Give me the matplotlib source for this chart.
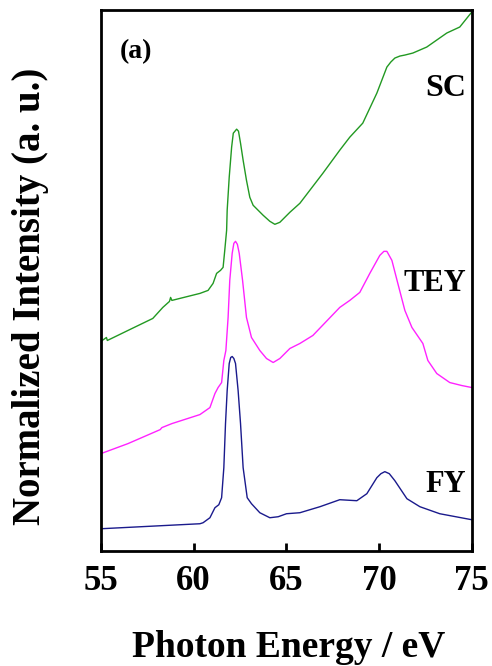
import matplotlib.pyplot as plt

plt.rcParams['font.family'] = ['Liberation Serif', 'DejaVu Serif']
plt.rcParams['font.weight'] = 'bold'

# photon energy (eV) and stacked normalized intensity (a.u.)
sc_e = [55.00, 55.30, 55.35, 56.46, 57.80, 58.34, 58.70, 58.76, 58.83, 60.34, 60.78,
        61.05, 61.24, 61.45, 61.59, 61.68, 61.78, 61.81, 61.92, 62.05, 62.14, 62.32,
        62.42, 62.53, 62.67, 62.85, 63.03, 63.21, 63.75, 64.11, 64.38, 64.65, 65.19,
        65.73, 66.97, 67.88, 68.42, 69.12, 69.88, 70.42, 70.63, 70.85, 71.12, 71.39,
        71.82, 72.57, 73.65, 74.35, 75.00]
sc_i = [2.09, 2.13, 2.10, 2.20, 2.32, 2.43, 2.49, 2.53, 2.50, 2.57, 2.60,
        2.67, 2.77, 2.80, 2.83, 3.00, 3.20, 3.40, 3.73, 4.03, 4.17, 4.21,
        4.19, 4.07, 3.90, 3.70, 3.53, 3.45, 3.35, 3.29, 3.26, 3.28, 3.38,
        3.47, 3.77, 4.00, 4.13, 4.27, 4.57, 4.83, 4.88, 4.92, 4.94, 4.95,
        4.97, 5.03, 5.17, 5.23, 5.38]

tey_e = [55.00, 56.46, 58.20, 58.29, 58.83, 60.34, 60.88, 61.15, 61.32, 61.51, 61.63,
         61.74, 61.86, 61.95, 62.08, 62.17, 62.26, 62.36, 62.46, 62.64, 62.85, 63.12,
         63.57, 63.93, 64.29, 64.65, 65.19, 65.73, 66.43, 67.88, 68.42, 68.96, 69.50,
         70.04, 70.26, 70.42, 70.69, 71.01, 71.39, 71.77, 72.36, 72.63, 73.11, 73.81,
         74.46, 75.00]
tey_i = [0.97, 1.07, 1.21, 1.23, 1.27, 1.36, 1.43, 1.57, 1.63, 1.68, 1.90,
         2.00, 2.33, 2.70, 2.97, 3.07, 3.09, 3.06, 2.97, 2.70, 2.33, 2.13,
         2.00, 1.92, 1.88, 1.92, 2.02, 2.07, 2.15, 2.43, 2.50, 2.58, 2.77,
         2.95, 2.99, 2.99, 2.90, 2.67, 2.40, 2.23, 2.07, 1.90, 1.77, 1.68,
         1.65, 1.63]

fy_e = [55.00, 60.34, 60.51, 60.88, 61.15, 61.36, 61.51, 61.63, 61.72, 61.81, 61.92,
        62.00, 62.08, 62.17, 62.26, 62.40, 62.53, 62.67, 62.89, 63.12, 63.57, 64.11,
        64.56, 65.01, 65.73, 66.81, 67.88, 68.80, 69.34, 69.88, 70.10, 70.31, 70.55,
        70.85, 71.50, 72.20, 73.27, 75.00]
fy_i = [0.22, 0.27, 0.28, 0.33, 0.43, 0.46, 0.53, 0.83, 1.27, 1.60, 1.87,
        1.93, 1.94, 1.92, 1.87, 1.60, 1.27, 0.83, 0.53, 0.47, 0.38, 0.33,
        0.34, 0.37, 0.38, 0.44, 0.51, 0.50, 0.57, 0.73, 0.77, 0.79, 0.77,
        0.70, 0.52, 0.44, 0.37, 0.31]

fig = plt.figure(figsize=(4.92, 6.66), dpi=100)
ax = fig.add_axes([0.205, 0.173, 0.754, 0.812])

ax.plot(sc_e, sc_i, color='#229922', lw=1.0)
ax.plot(tey_e, tey_i, color='#ff22ff', lw=1.0)
ax.plot(fy_e, fy_i, color='#1a1a8c', lw=1.0)

ax.set_xlim(55, 75)
ax.set_ylim(0, 5.4)
ax.set_xticks([55, 60, 65, 70, 75])
ax.set_yticks([])
ax.tick_params(axis='x', direction='in', length=6, width=2, labelsize=25, pad=10)
for s in ax.spines.values():
    s.set_linewidth(2)

ax.set_xlabel('Photon Energy / eV', fontsize=27, fontweight='bold', va='center')
ax.xaxis.set_label_coords(0.505, -0.178)
ax.set_ylabel('Normalized Intensity (a. u.)', fontsize=28, fontweight='bold', va='center')
ax.yaxis.set_label_coords(-0.19, 0.47)

ax.text(56.0, 4.98, '(a)', fontsize=20, fontweight='bold', va='center')
ax.text(74.7, 4.62, 'SC', fontsize=23, fontweight='bold', ha='right', va='center')
ax.text(74.7, 2.67, 'TEY', fontsize=22, fontweight='bold', ha='right', va='center')
ax.text(74.7, 0.66, 'FY', fontsize=22, fontweight='bold', ha='right', va='center')

fig.savefig('out.png', dpi=100)
